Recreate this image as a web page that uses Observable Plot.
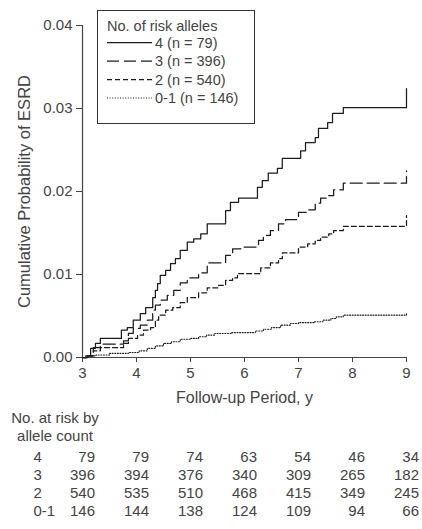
<!DOCTYPE html>
<html><head><meta charset="utf-8">
<script src="https://cdn.jsdelivr.net/npm/d3@7"></script>
<script src="https://cdn.jsdelivr.net/npm/@observablehq/plot@0.6"></script>
<style>
body{margin:0;background:#fff;font-family:"Liberation Sans",Arial,sans-serif;color:#444}
#wrap{position:relative;width:422px;height:529px;background:#fff}
#wrap svg{display:block}
#legend{position:absolute;left:0;top:0;pointer-events:none}
#hdr{position:absolute;left:0;top:409px;width:110px;text-align:center;font-size:15px;line-height:18px;color:#444}
</style></head><body><div id="wrap"></div>
<script>
// Groups (number of risk alleles) and sample sizes
const groups = ["4", "3", "2", "0-1"];
const groupN = [79, 396, 540, 146];

// Cumulative probability step curves (time in years, cumulative probability)
const times4 = [3.0, 3.06, 3.15, 3.24, 3.33, 3.72, 3.83, 3.94, 4.07, 4.17, 4.3, 4.35, 4.39, 4.44, 4.54, 4.63, 4.72, 4.81, 4.94, 5.06, 5.19, 5.31, 5.65, 5.74, 5.89, 6.24, 6.33, 6.44, 6.61, 6.7, 7.04, 7.13, 7.31, 7.37, 7.54, 7.63, 7.83, 9.0, 9.0];
const cum4 = [0, 0.0002, 0.0011, 0.0017, 0.0023, 0.0033, 0.0036, 0.0045, 0.0053, 0.006, 0.0072, 0.0081, 0.0089, 0.0099, 0.0105, 0.0113, 0.0119, 0.0129, 0.0139, 0.0143, 0.0149, 0.0161, 0.0177, 0.0187, 0.0192, 0.0205, 0.0213, 0.0222, 0.0228, 0.024, 0.0249, 0.0259, 0.0265, 0.0276, 0.0283, 0.0294, 0.0301, 0.0301, 0.0324];

const times3 = [3.0, 3.09, 3.2, 3.33, 3.76, 3.85, 3.94, 4.07, 4.2, 4.3, 4.35, 4.44, 4.57, 4.69, 4.81, 4.94, 5.15, 5.31, 5.65, 5.78, 5.93, 6.26, 6.35, 6.48, 6.63, 6.76, 7.0, 7.17, 7.31, 7.41, 7.56, 7.65, 7.83, 9.0, 9.0];
const cum3 = [0, 0.0002, 0.0012, 0.0016, 0.002, 0.0029, 0.0035, 0.0039, 0.0045, 0.0057, 0.0063, 0.0069, 0.0075, 0.0081, 0.009, 0.0096, 0.0102, 0.0114, 0.0123, 0.0131, 0.0133, 0.0141, 0.0147, 0.0153, 0.0161, 0.0166, 0.0175, 0.0178, 0.0186, 0.0192, 0.0195, 0.0202, 0.021, 0.021, 0.0225];

const times2 = [3.0, 3.09, 3.2, 3.33, 3.76, 3.85, 4.02, 4.13, 4.26, 4.35, 4.41, 4.54, 4.67, 4.81, 4.94, 5.15, 5.31, 5.52, 5.65, 5.78, 5.87, 6.3, 6.48, 6.63, 6.7, 7.0, 7.17, 7.31, 7.41, 7.56, 7.65, 7.83, 9.0, 9.0];
const cum2 = [0, 0.0002, 0.0008, 0.0012, 0.0017, 0.0023, 0.0027, 0.0033, 0.0036, 0.0045, 0.0051, 0.0057, 0.006, 0.0066, 0.0072, 0.0078, 0.0084, 0.0087, 0.0093, 0.0096, 0.0101, 0.0108, 0.0114, 0.0119, 0.0126, 0.0133, 0.0137, 0.0141, 0.0145, 0.0149, 0.0153, 0.0158, 0.0158, 0.0171];

const times01 = [3.0, 3.1, 3.25, 3.5, 3.85, 4.05, 4.2, 4.35, 4.5, 4.65, 4.81, 5.0, 5.15, 5.3, 5.45, 5.75, 6.2, 6.35, 6.5, 6.67, 6.85, 7.0, 7.3, 7.45, 7.6, 7.7, 7.83, 9.0, 9.0];
const cum01 = [0, 0.0002, 0.0003, 0.0005, 0.0006, 0.0008, 0.0011, 0.0014, 0.0017, 0.0019, 0.0022, 0.0023, 0.0025, 0.0027, 0.0029, 0.003, 0.0032, 0.0034, 0.0036, 0.0039, 0.0041, 0.0042, 0.0043, 0.0045, 0.0047, 0.0049, 0.0051, 0.0051, 0.0053];

// Axis ticks
const xTicks = [3, 4, 5, 6, 7, 8, 9];
const yTicks = [0, 0.01, 0.02, 0.03, 0.04];

// Number at risk table
const riskTimes = [3, 4, 5, 6, 7, 8, 9];
const risk4 = [79, 79, 74, 63, 54, 46, 34];
const risk3 = [396, 394, 376, 340, 309, 265, 182];
const risk2 = [540, 535, 510, 468, 415, 349, 245];
const risk01 = [146, 144, 138, 124, 109, 94, 66];

// ---- build tables ----
const seriesT = [times4, times3, times2, times01];
const seriesC = [cum4, cum3, cum2, cum01];
const riskC = [risk4, risk3, risk2, risk01];
const dashes = [undefined, "12,5", "5,3", "1,1.6"];
const ink = "#1c1c1c";
const txt = "#444";
const font = '"Liberation Sans", Arial, sans-serif';

const rows = groups.flatMap((g, i) => seriesT[i].map((t, j) => ({group: g, t, p: seriesC[i][j]})));
const riskRows = groups.flatMap((g, i) => riskTimes.map((t, j) => ({group: g, t, n: riskC[i][j]})));

const wrap = document.getElementById("wrap");

const chart = Plot.plot({
  width: 422, height: 410,
  marginLeft: 82, marginRight: 16, marginTop: 25, marginBottom: 53,
  style: {fontFamily: font, fontSize: "15px", color: txt, background: "white", overflow: "visible"},
  x: {domain: [3, 9]},
  y: {domain: [0, 0.04]},
  marks: [
    Plot.axisY({ticks: yTicks, tickFormat: d3.format(".2f"), tickSize: 6, tickPadding: 4, label: null, fontSize: 15}),
    Plot.axisY({ticks: [], label: "Cumulative Probability of ESRD", labelAnchor: "center", labelArrow: "none", labelOffset: 64, fontSize: 16.5}),
    Plot.axisX({ticks: xTicks, tickFormat: d3.format("d"), tickSize: 5, tickPadding: 5, label: null, fontSize: 15}),
    Plot.axisX({ticks: [], label: "Follow-up Period, y", labelAnchor: "center", labelArrow: "none", labelOffset: 45, fontSize: 16}),
    Plot.ruleX([3], {y1: 0, y2: 0.04, stroke: txt, strokeWidth: 1.2}),
    Plot.ruleY([0], {x1: 3, x2: 9, stroke: txt, strokeWidth: 1.2}),
    ...groups.map((g, i) => Plot.line(rows.filter(d => d.group === g), {
      x: "t", y: "p", curve: "step-after", stroke: ink,
      strokeWidth: i === 3 ? 1.1 : 1.25, strokeDasharray: dashes[i]
    }))
  ]
});
wrap.appendChild(chart);

const table = Plot.plot({
  width: 422, height: 119,
  marginLeft: 82, marginRight: 16, marginTop: 46.5, marginBottom: 17.5,
  style: {fontFamily: font, fontSize: "15px", color: txt, background: "white", overflow: "visible"},
  x: {domain: [3, 9], axis: null},
  y: {type: "point", domain: groups, axis: null, padding: 0},
  marks: [
    Plot.text(riskRows, {x: "t", y: "group", text: d => String(d.n), textAnchor: "end", dx: 12.5, fill: txt, fontSize: 15}),
    Plot.text(groups, {y: d => d, text: d => d, frameAnchor: "left", dx: -49, textAnchor: "start", fill: txt, fontSize: 15})
  ]
});
wrap.appendChild(table);

const hdr = document.createElement("div");
hdr.id = "hdr";
hdr.innerHTML = "No. at risk by<br>allele count";
wrap.appendChild(hdr);

// legend
const lg = d3.create("svg").attr("id", "legend").attr("width", 422).attr("height", 130)
  .style("font-family", font).style("font-size", "14.5px");
lg.append("rect").attr("x", 97.5).attr("y", 10.5).attr("width", 157).attr("height", 113)
  .attr("fill", "white").attr("stroke", "#333").attr("stroke-width", 1);
lg.append("text").attr("x", 107).attr("y", 30.5).attr("fill", txt).text("No. of risk alleles");
groups.forEach((g, i) => {
  const yb = 47.5 + i * 18.5;
  lg.append("line").attr("x1", 107).attr("x2", 152).attr("y1", yb - 5).attr("y2", yb - 5)
    .attr("stroke", ink).attr("stroke-width", i === 3 ? 1.1 : 1.25)
    .attr("stroke-dasharray", dashes[i] || null);
  lg.append("text").attr("x", 155).attr("y", yb).attr("fill", txt)
    .text(`${g} (n = ${groupN[i]})`);
});
wrap.appendChild(lg.node());
</script></body></html>
